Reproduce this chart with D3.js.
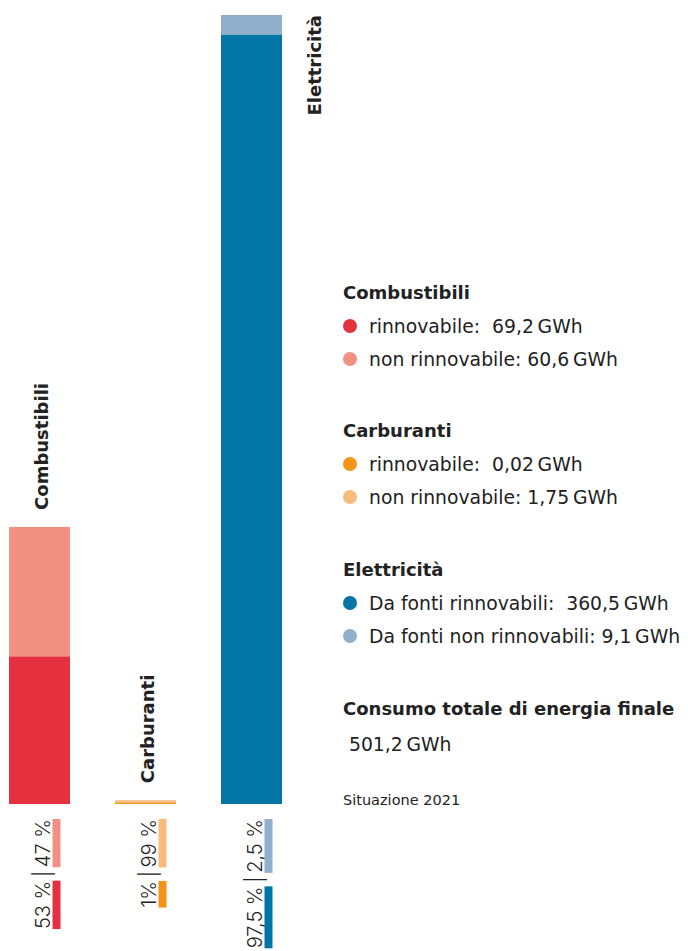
<!DOCTYPE html>
<html>
<head>
<meta charset="utf-8">
<script src="https://cdn.jsdelivr.net/npm/d3@7"></script>
<style>
  html, body { margin: 0; padding: 0; background: #fff; }
  svg { display: block; }
  text { font-family: "DejaVu Sans", sans-serif; fill: #222; white-space: pre; }
  text.pct { font-family: Inter, "Noto Sans", sans-serif; }
</style>
</head>
<body>
<svg id="chart" width="688" height="951"></svg>
<script>
// ---------- data ----------
const categories = ["Combustibili", "Carburanti", "Elettricità"];
const renewable = [69.2, 0.02, 360.5];          // GWh
const nonRenewable = [60.6, 1.75, 9.1];         // GWh
const pctRenewable = ["53 %", "1%", "97,5 %"];
const pctNonRenewable = ["47 %", "99 %", "2,5 %"];
const renewableLabels = ["rinnovabile:", "rinnovabile:", "Da fonti rinnovabili:"];
const nonRenewableLabels = ["non rinnovabile:", "non rinnovabile:", "Da fonti non rinnovabili:"];
const totalTitle = "Consumo totale di energia finale";
const footnote = "Situazione 2021";
const unit = "GWh";

const renewColors = ["#e5303f", "#f39419", "#0075a6"];
const nonRenewColors = ["#f29183", "#f9bb7d", "#8fafcc"];

// ---------- helpers ----------
const fmt = v => String(v).replace(".", ",");
const totals = categories.map((c, i) => renewable[i] + nonRenewable[i]);
const grandTotal = d3.sum(totals);

const svg = d3.select("#chart");

const x = d3.scaleBand().domain(categories).range([9, 282]).paddingInner(45 / 106).paddingOuter(0);
const y = d3.scaleLinear().domain([0, d3.max(totals)]).range([804, 15]);

// ---------- bars ----------
const g = svg.append("g");
categories.forEach((c, i) => {
  const rTop = y(renewable[i]);
  const rH = Math.max(1, y(0) - rTop);
  g.append("rect")
    .attr("x", x(c)).attr("width", x.bandwidth())
    .attr("y", y(0) - rH).attr("height", rH)
    .attr("fill", renewColors[i]);
  const nTop = y(totals[i]);
  g.append("rect")
    .attr("x", x(c)).attr("width", x.bandwidth())
    .attr("y", nTop).attr("height", Math.max(0, (y(0) - rH) - nTop))
    .attr("fill", nonRenewColors[i]);
});

// ---------- category labels (rotated) ----------
categories.forEach((c, i) => {
  const top = y(totals[i]);
  const t = svg.append("text")
    .attr("font-weight", 700)
    .attr("font-size", 18)
    .text(c);
  const len = t.node().getComputedTextLength();
  if (top - 17 - len > 0) {
    const bx = x(c) + x.bandwidth() / 2 + 8;
    t.attr("transform", `translate(${bx},${top - 17}) rotate(-90)`).attr("text-anchor", "start");
  } else {
    const bx = x(c) + x.bandwidth() + 39;
    t.attr("transform", `translate(${bx},${top}) rotate(-90)`).attr("text-anchor", "end");
  }
});

// ---------- percentage labels with small bars ----------
categories.forEach((c, i) => {
  const sep = "\u2009|\u2009";
  const str = pctRenewable[i] + sep + pctNonRenewable[i];
  const bx = x(c) + x.bandwidth() / 2 + 10;
  const yTop = 819;
  const t = svg.append("text")
    .attr("class", "pct")
    .attr("font-size", 20)
    .attr("font-weight", 300)
    .attr("text-anchor", "end")
    .attr("transform", `translate(${bx},${yTop}) rotate(-90)`)
    .text(str);
  const node = t.node();
  const total = node.getComputedTextLength();
  const lR = node.getSubStringLength(0, pctRenewable[i].length);
  const lN = node.getSubStringLength(str.length - pctNonRenewable[i].length, pctNonRenewable[i].length);
  svg.append("rect")
    .attr("x", bx + 3).attr("width", 8)
    .attr("y", yTop).attr("height", lN)
    .attr("fill", nonRenewColors[i]);
  svg.append("rect")
    .attr("x", bx + 3).attr("width", 8)
    .attr("y", yTop + total - lR).attr("height", lR)
    .attr("fill", renewColors[i]);
});

// ---------- legend ----------
const lx = 343;
const groupTops = [299, 437, 576];
categories.forEach((c, i) => {
  const ty = groupTops[i];
  svg.append("text").attr("x", lx).attr("y", ty)
    .attr("font-weight", 700).attr("font-size", 18).text(c);
  const rows = [
    { lab: renewableLabels[i] + "  " + fmt(renewable[i]) + "\u2009" + unit, col: renewColors[i] },
    { lab: nonRenewableLabels[i] + " " + fmt(nonRenewable[i]) + "\u2009" + unit, col: nonRenewColors[i] }
  ];
  rows.forEach((r, k) => {
    const cy = ty + 27 + k * 33;
    svg.append("circle").attr("cx", lx + 7).attr("cy", cy).attr("r", 7).attr("fill", r.col);
    svg.append("text").attr("x", lx + 26).attr("y", cy + 7)
      .attr("font-size", 18.8).text(r.lab);
  });
});

svg.append("text").attr("x", lx).attr("y", 715)
  .attr("font-weight", 700).attr("font-size", 18).text(totalTitle);
svg.append("text").attr("x", lx).attr("y", 751)
  .attr("font-size", 18.8).text(" " + d3.format(".1f")(grandTotal).replace(".", ",") + "\u2009" + unit);

svg.append("text").attr("x", lx).attr("y", 805)
  .attr("font-size", 14.5).text(footnote);
</script>
</body>
</html>
